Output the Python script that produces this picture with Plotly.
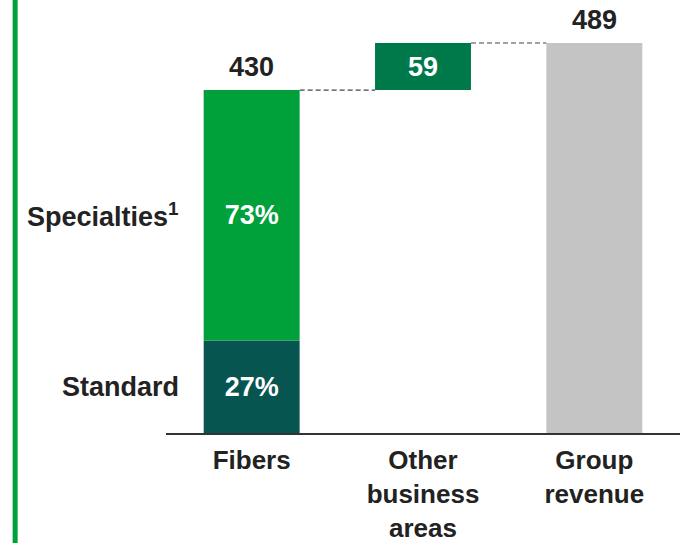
import plotly.graph_objects as go

categories = ["Fibers", "Other<br>business<br>areas", "Group<br>revenue"]
fibers_total = 430
other_value = 59
group_total = 489
standard_share = 27
specialties_share = 73
segment_labels = ["Standard", "Specialties<sup>1</sup>"]

standard_val = fibers_total * standard_share / 100
special_val = fibers_total * specialties_share / 100

C_SPEC = "#00A03A"
C_STD = "#075550"
C_OTHER = "#00794A"
C_GROUP = "#C4C4C4"
TXT = "#222222"
FONT = "Liberation Sans, Arial, sans-serif"
BW = 0.56

fig = go.Figure()
fig.add_trace(go.Bar(x=[0], y=[standard_val], base=[0], marker_color=C_STD, width=BW,
                     text=[f"{standard_share}%"], textposition="inside", insidetextanchor="middle",
                     textfont=dict(color="white", size=27, family=FONT, weight="bold")))
fig.add_trace(go.Bar(x=[0], y=[special_val], base=[standard_val], marker_color=C_SPEC, width=BW,
                     text=[f"{specialties_share}%"], textposition="inside", insidetextanchor="middle",
                     textfont=dict(color="white", size=27, family=FONT, weight="bold")))
fig.add_trace(go.Bar(x=[1], y=[other_value], base=[fibers_total], marker_color=C_OTHER, width=BW,
                     text=[str(other_value)], textposition="inside", insidetextanchor="middle",
                     textfont=dict(color="white", size=27, family=FONT, weight="bold")))
fig.add_trace(go.Bar(x=[2], y=[group_total], base=[0], marker_color=C_GROUP, width=BW))

for tr in fig.data:
    tr.marker.line.width = 0
    tr.showlegend = False
    tr.hoverinfo = "skip"

# connectors
fig.add_shape(type="line", xref="x", yref="y", x0=0 + BW / 2, x1=1 - BW / 2,
              y0=fibers_total, y1=fibers_total, line=dict(color="#444", width=1.2, dash="5px,3px"))
fig.add_shape(type="line", xref="x", yref="y", x0=1 + BW / 2, x1=2 - BW / 2,
              y0=fibers_total + other_value, y1=fibers_total + other_value,
              line=dict(color="#444", width=1.2, dash="5px,3px"))

# left green rule
fig.add_shape(type="line", xref="paper", yref="paper", x0=-0.2935, x1=-0.2935, y0=-0.4, y1=1.2,
              line=dict(color="#00A03A", width=5))

# totals above bars
fig.add_annotation(x=0, y=fibers_total, text=str(fibers_total), showarrow=False, yanchor="bottom",
                   yshift=6, font=dict(size=27, color=TXT, family=FONT, weight="bold"))
fig.add_annotation(x=2, y=group_total, text=str(group_total), showarrow=False, yanchor="bottom",
                   yshift=6, font=dict(size=27, color=TXT, family=FONT, weight="bold"))

# segment labels
fig.add_annotation(x=-0.41, y=standard_val / 2, text=segment_labels[0], showarrow=False, xanchor="right",
                   font=dict(size=27, color=TXT, family=FONT, weight="bold"))
fig.add_annotation(x=-0.41, y=standard_val + special_val / 2, text=segment_labels[1], showarrow=False,
                   xanchor="right", font=dict(size=27, color=TXT, family=FONT, weight="bold"))

fig.update_layout(
    width=691, height=543,
    margin=dict(l=166, r=11, t=20, b=110),
    plot_bgcolor="white", paper_bgcolor="white",
    barmode="overlay",
    xaxis=dict(range=[-0.5, 2.5], tickmode="array", tickvals=[0, 1, 2], ticktext=categories,
               showline=True, linecolor="#333", linewidth=1.5, ticks="", showgrid=False,
               zeroline=False, automargin=False, ticklabelstandoff=3,
               tickfont=dict(size=26, color=TXT, family=FONT, weight="bold")),
    yaxis=dict(range=[0, group_total * 413 / 390], visible=False, showgrid=False, zeroline=False,
               automargin=False),
)

fig.write_html("out.html")
